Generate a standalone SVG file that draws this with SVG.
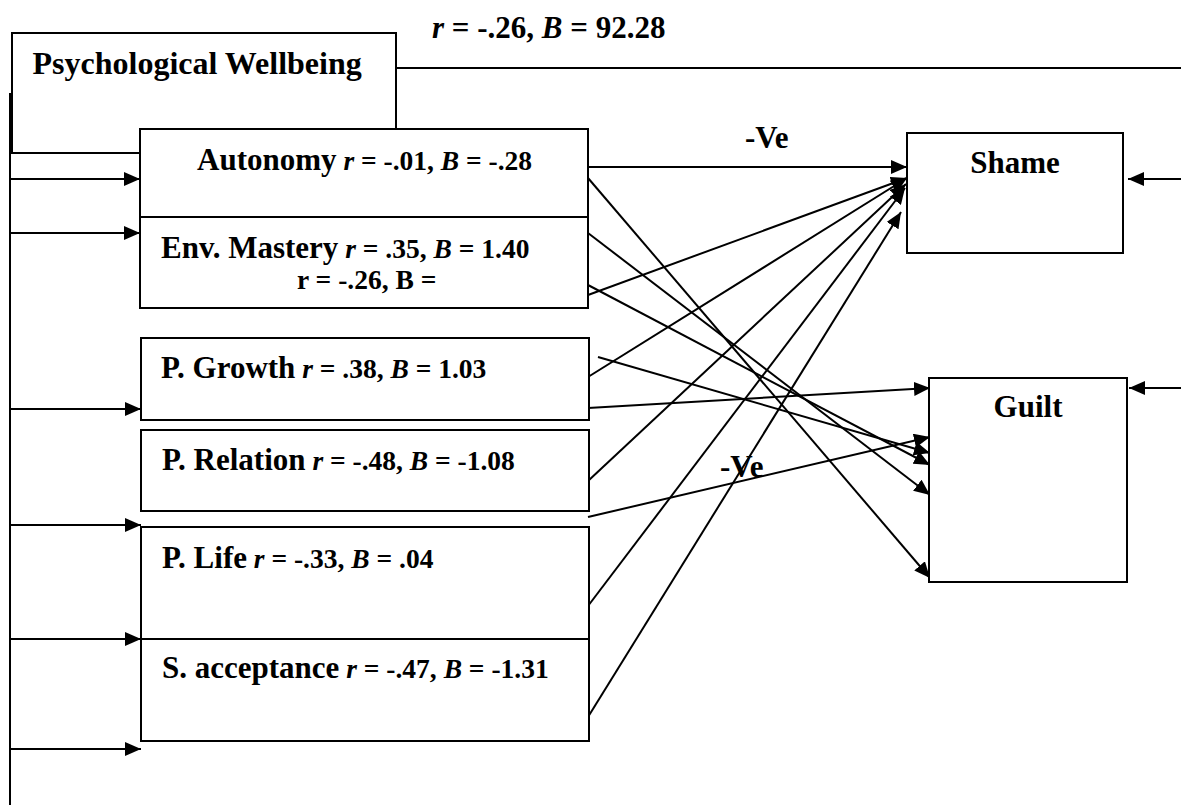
<svg xmlns="http://www.w3.org/2000/svg" width="1181" height="805" viewBox="0 0 1181 805">
<style>
text{font-family:"Liberation Serif","Times New Roman",serif;font-weight:bold;fill:#000}
.t{font-size:31px}
.s{font-size:27.5px}
.i{font-style:italic}
.box{fill:#fff;stroke:#000;stroke-width:2}
.ln{fill:none;stroke:#000;stroke-width:2}
.ar{fill:none;stroke:#000;stroke-width:2;marker-end:url(#ah)}
</style>
<defs>
<marker id="ah" markerWidth="16" markerHeight="14" refX="16" refY="7" orient="auto" markerUnits="userSpaceOnUse">
<path d="M0,0 L16,7 L0,14 z" fill="#000"/>
</marker>
</defs>
<rect width="1181" height="805" fill="#fff"/>
<g id="label-top">
<text class="t" x="432" y="38"><tspan class="i">r</tspan> = -.26, <tspan class="i">B</tspan> = 92.28</text>
</g>
<g id="node-pw">
<rect class="box" x="12" y="33" width="384" height="120"/>
<text class="t" x="32.5" y="74" style="font-size:32px">Psychological Wellbeing</text>
</g>
<g id="connectors">
<line class="ln" x1="396" y1="68" x2="1181" y2="68"/>
<line class="ln" x1="10" y1="93" x2="10" y2="805"/>
<line class="ar" x1="10" y1="179" x2="140" y2="179"/>
<line class="ar" x1="10" y1="233" x2="140" y2="233"/>
<line class="ar" x1="10" y1="409" x2="141" y2="409"/>
<line class="ar" x1="10" y1="525" x2="141" y2="525"/>
<line class="ar" x1="10" y1="639" x2="141" y2="639"/>
<line class="ar" x1="10" y1="749" x2="141" y2="749"/>
<line class="ar" x1="1181" y1="179" x2="1128" y2="179"/>
<line class="ar" x1="1181" y1="388" x2="1129" y2="388"/>
<line class="ar" x1="588" y1="167" x2="907" y2="167"/>
<line class="ar" x1="588" y1="178" x2="930" y2="578"/>
<line class="ar" x1="588" y1="233" x2="930" y2="495"/>
<line class="ar" x1="588" y1="285" x2="930" y2="465"/>
<line class="ar" x1="588" y1="295" x2="907" y2="178"/>
<line class="ar" x1="588" y1="377" x2="907" y2="178"/>
<line class="ar" x1="598" y1="357" x2="930" y2="453"/>
<line class="ar" x1="588" y1="408" x2="930" y2="388"/>
<line class="ar" x1="588" y1="481" x2="906" y2="184"/>
<line class="ar" x1="588" y1="517" x2="930" y2="437"/>
<line class="ar" x1="588" y1="606" x2="905" y2="188"/>
<line class="ar" x1="588" y1="717" x2="901" y2="212"/>
<text class="t" x="745" y="148">-Ve</text>
<text class="t" x="720" y="477">-Ve</text>
</g>
<g id="node-autonomy">
<rect class="box" x="140" y="129" width="448" height="88"/>
<text x="197" y="170"><tspan class="t">Autonomy</tspan><tspan class="s"> <tspan class="i">r</tspan> = -.01, <tspan class="i">B</tspan> = -.28</tspan></text>
</g>
<g id="node-env-mastery">
<rect class="box" x="140" y="217" width="448" height="91"/>
<text x="161" y="258"><tspan class="t">Env. Mastery</tspan><tspan class="s"> <tspan class="i">r</tspan> = .35, <tspan class="i">B</tspan> = 1.40</tspan></text>
<text class="s" x="297" y="289">r = -.26, B =</text>
</g>
<g id="node-p-growth">
<rect class="box" x="141" y="338" width="448" height="82"/>
<text x="161" y="378"><tspan class="t">P. Growth</tspan><tspan class="s"> <tspan class="i">r</tspan> = .38, <tspan class="i">B</tspan> = 1.03</tspan></text>
</g>
<g id="node-p-relation">
<rect class="box" x="141" y="430" width="448" height="81"/>
<text x="162" y="470"><tspan class="t">P. Relation</tspan><tspan class="s"> <tspan class="i">r</tspan> = -.48, <tspan class="i">B</tspan> = -1.08</tspan></text>
</g>
<g id="node-p-life">
<rect class="box" x="141" y="527" width="448" height="112"/>
<text x="162" y="568"><tspan class="t">P. Life</tspan><tspan class="s"> <tspan class="i">r</tspan> = -.33, <tspan class="i">B</tspan> = .04</tspan></text>
</g>
<g id="node-s-acceptance">
<rect class="box" x="141" y="639" width="448" height="102"/>
<text x="162" y="678"><tspan class="t">S. acceptance</tspan><tspan class="s"> <tspan class="i">r</tspan> = -.47, <tspan class="i">B</tspan> = -1.31</tspan></text>
</g>
<g id="node-shame">
<rect class="box" x="907" y="133" width="216" height="120"/>
<text class="t" x="1015" y="173" text-anchor="middle">Shame</text>
</g>
<g id="node-guilt">
<rect class="box" x="929" y="378" width="198" height="204"/>
<text class="t" x="1028" y="417" text-anchor="middle">Guilt</text>
</g>
</svg>
